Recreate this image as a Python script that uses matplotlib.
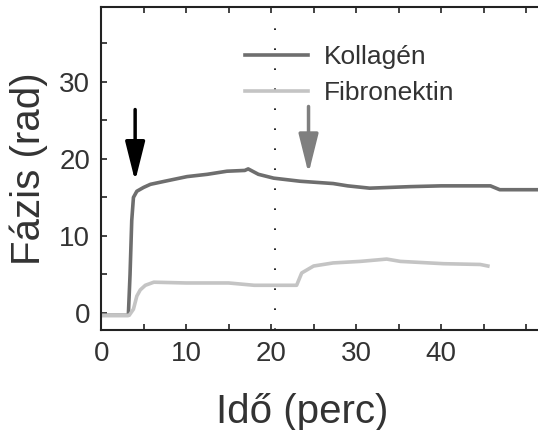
import matplotlib
matplotlib.use('Agg')
import matplotlib.pyplot as plt
from matplotlib.ticker import MultipleLocator, FixedLocator

## data
kol_x = [0, 3.2, 3.4, 3.6, 3.8, 4.2, 5.0, 5.8, 7.5, 10.1, 12.5, 14.8, 16.9, 17.3, 18.5, 20.3,
         23.4, 27.3, 29.0, 31.6, 36.4, 40.0, 45.8, 46.9, 51.4]
kol_y = [-0.3, -0.3, 5.0, 12.0, 15.0, 15.8, 16.3, 16.7, 17.1, 17.7, 18.0, 18.4, 18.5, 18.7, 18.0, 17.5,
         17.1, 16.8, 16.5, 16.2, 16.4, 16.5, 16.5, 16.0, 16.0]
fib_x = [0, 3.3, 3.8, 4.2, 4.6, 5.2, 6.2, 10.0, 15.0, 18.0, 23.0, 23.6, 25.0, 27.3, 30.5,
         33.6, 35.2, 40.3, 44.6, 45.5]
fib_y = [-0.3, -0.3, 0.5, 2.2, 3.0, 3.6, 4.0, 3.9, 3.9, 3.6, 3.6, 5.2, 6.1, 6.5, 6.7,
         7.0, 6.7, 6.4, 6.3, 6.1]
vline_x = 20.5
arrows = [(4.0, 26.4, 17.1, 'black'), (24.4, 26.8, 18.1, '#7f7f7f')]
xtick_labels = [0, 10, 20, 30, 40]

sans = ['Liberation Sans', 'DejaVu Sans']
plt.rcParams['font.family'] = sans

fig = plt.figure(figsize=(5.38, 4.30), dpi=100)
ax = fig.add_axes([0.188, 0.2326, 0.812, 0.751])

ax.plot(kol_x, kol_y, color='#6e6e6e', lw=2.6, label='Kollagén')
ax.plot(fib_x, fib_y, color='#c4c4c4', lw=2.6, label='Fibronektin')
ax.axvline(vline_x, ymin=0.0, ymax=0.94, color='black', lw=1.2, ls=(0, (1, 11)))

for x, y0, y1, c in arrows:
    ax.annotate('', xy=(x, y1), xytext=(x, y0),
                arrowprops=dict(arrowstyle='-|>,head_length=1.2,head_width=0.3',
                                mutation_scale=20, color=c, lw=2.5,
                                shrinkA=0, shrinkB=0))

ax.set_xlim(0, 51.4)
ax.set_ylim(-2.2, 39.7)
ax.xaxis.set_major_locator(FixedLocator(xtick_labels))
ax.xaxis.set_minor_locator(MultipleLocator(5))
ax.yaxis.set_major_locator(MultipleLocator(10))
ax.yaxis.set_minor_locator(MultipleLocator(5))
ax.tick_params(which='both', direction='in', top=True, length=4, width=1.2, color='#222222')
ax.tick_params(labelsize=20, labelcolor='#333333', pad=8)
ax.spines['right'].set_visible(False)
for s in ['left', 'bottom', 'top']:
    ax.spines[s].set_linewidth(1.5)
    ax.spines[s].set_color('#222222')

ax.set_xlabel('Idő (perc)', fontsize=29, color='#333333')
ax.xaxis.set_label_coords(0.46, -0.195)
ax.set_ylabel('Fázis (rad)', fontsize=29, color='#333333', labelpad=8)

leg = ax.legend(frameon=False, loc='upper left', bbox_to_anchor=(0.275, 0.955),
                handlelength=2.4, handletextpad=0.6, labelspacing=0.45,
                prop={'size': 19})
for t in leg.get_texts():
    t.set_color('#333333')

fig.savefig('out.png', dpi=100)
